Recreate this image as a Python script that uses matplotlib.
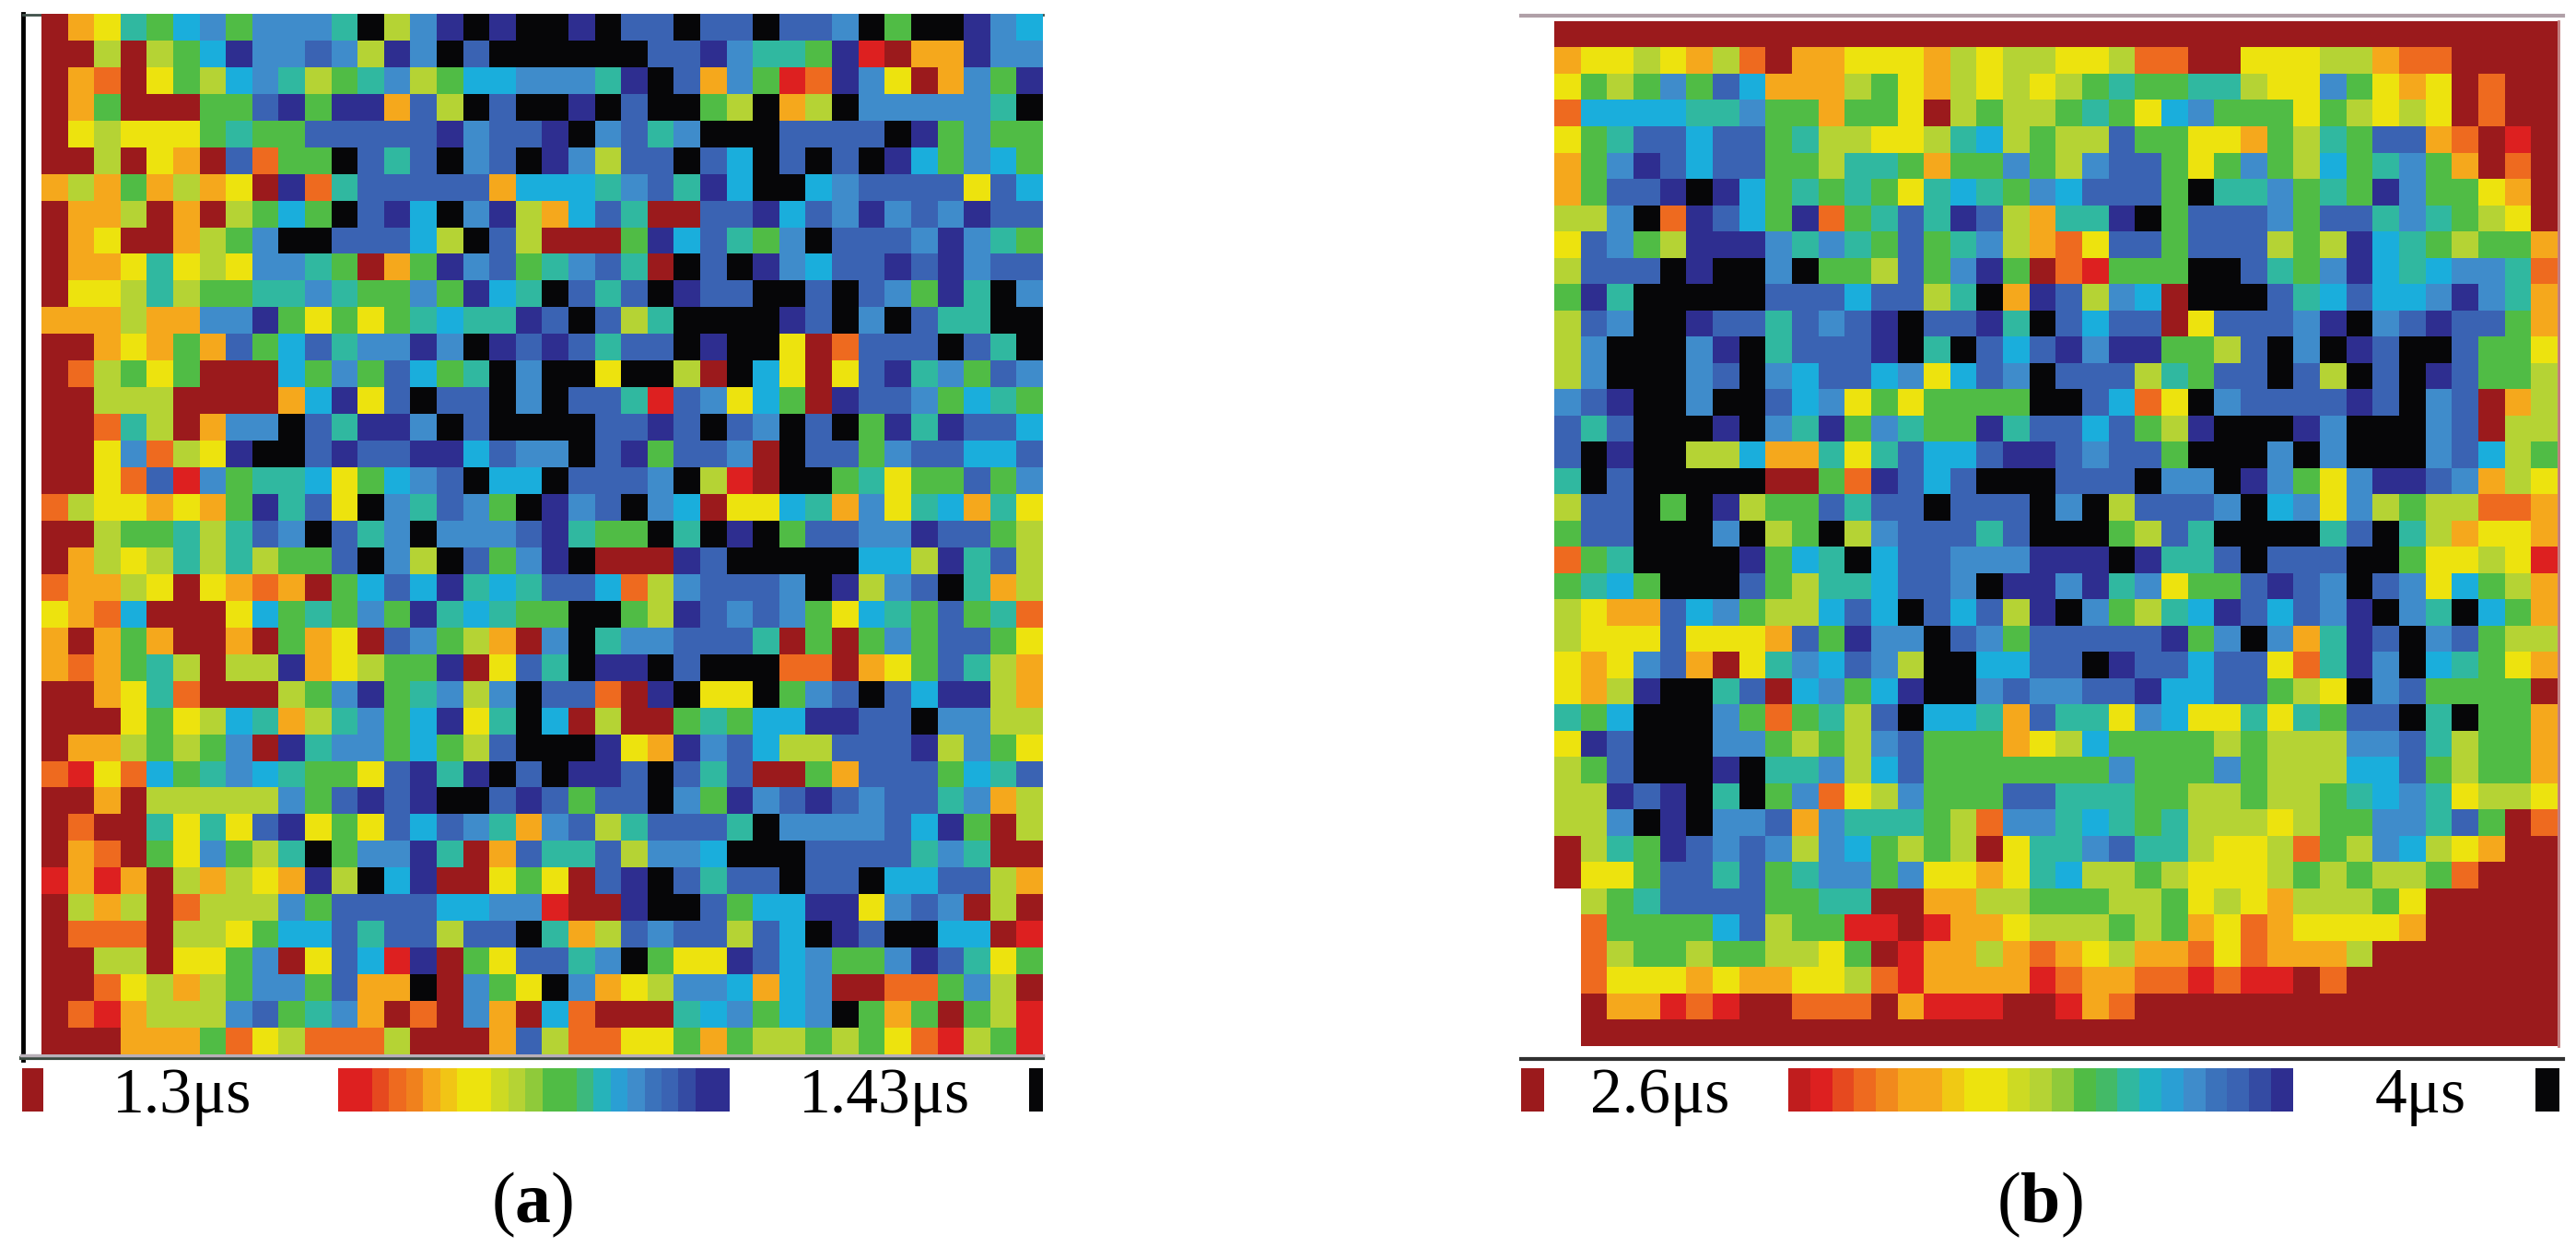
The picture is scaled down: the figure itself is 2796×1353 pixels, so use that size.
import numpy as np
import matplotlib
matplotlib.use('Agg')
import matplotlib.pyplot as plt
from matplotlib.colors import LinearSegmentedColormap

plt.rcParams['font.family'] = ['Liberation Serif', 'DejaVu Serif']
plt.rcParams['mathtext.fontset'] = 'custom'
plt.rcParams['mathtext.rm'] = 'Liberation Serif'
plt.rcParams['mathtext.bf'] = 'Liberation Serif:bold'

# level letters, low to high lifetime (dark red ... black), '.' = no data
level_codes = 'Rroaylgtcbmnk'
level_colors = ['#9B1A1C', '#DD2020', '#EE6A1F', '#F5A81C', '#EDE30E', '#B5D334', '#50BC45',
                '#30B8A0', '#1AAEDC', '#3F8CCB', '#3A63B3', '#2E2E90', '#060608']

# panel (a) lifetime map, read cell by cell, left half then right half of each row
map_a_left = [
    'Raytgcbgbbbtklbnknk', 'RRlRlgcnbbmblnbkmkk', 'RaoRyglcbtlgtblgccb', 'RagRRRggmngnnamlkmk',
    'Rylyyygtggmmmmmnbmm', 'RRlRyaRmoggkmtmkbmk', 'alagalayRnotmmmmmac', 'RaalRaRlgcgkmnckbnl',
    'RayRRalgbkkmmmclkml', 'RaaytylybbtgRagnbmg', 'Ryyltlggttbtggbgnct', 'aaalaabbngygygtcttn',
    'RRayagamgcmtbbnbknm', 'RolgygRRRcgbgmcgtkb', 'RRlllRRRRacnymkmmkb', 'RRotlRabbkmtnnbkmkk',
    'RRybolynkkmnmmnncmb', 'RRyomrbgttcygcbmkcc', 'olyyayagntmykbtmbgk', 'RRlggtltmbkmtbkbbbm',
    'Ralyltltlggmkblkmgb', 'oaalyRyaoaRgcmcntct', 'yaocRRRycgtgbgntctg', 'aRagaRRaRgayRmbglaR',
    'aoagtlRllnaylggnRym', 'RRaytoRRRlgbngtblbk', 'RRRygylctaltbgcnytk', 'RaalglgbRntbbgcglmk',
    'oryocgtbctggymntnkm', 'RRaRlllllbgmnmnkkmn', 'RoRRtytymnygymcmbta', 'RaoRgybgltkgbbntRam',
    'raraRlalyanlkcnRRyg', 'RlalRolllbgmmmmccbb', 'RoooRllygccmtmmlmmk', 'RRllRyygbRymcrnRgym',
    'RRoylalgbbgmaakRbgy', 'RoralllbmgtbaRoRbaR', 'RRRaaagoylooolRRRam',
]
map_a_right = [
    'knkmmkmmkmmbkgkknbc', 'kkkkmmnbttgnrRaanbb', 'bbtnkmabgronbyRabgn', 'knkmkkglkalkbbbbbtk',
    'nkbmtbkkkmmmmkngbgg', 'nblmmkmckmkmkncgbcg', 'cctbmtnckkcbmmmmymc', 'acmtRRmmncmbnbmbnmm',
    'RRRgncmtgbkmmmbnbtg', 'tbmtRkmknbcmmnmnbmm', 'kmtmknmmkkmkmbgntkb', 'mkmltkkkknmkbkmttkk',
    'nmtmmknkkyRommmkmtk', 'kkykklRkcyRymntbgmb', 'kmmtrmbycgRnmmbgctg', 'kkmmnmkmbkmkgntnmmc',
    'bkmngmmbRkmmgbmmccm', 'kmmmbklrRkkgtyggmgb', 'nbmkbcRyyctabytcaty', 'ntggktknkgmmbbnmmgl',
    'nkRRRnmkkkkkcclntml', 'mmcolbmmmbknlbmktal', 'gkkglnmbmbgyctgmgto', 'bktbbmmmtRgRgbgmmgy',
    'tknnkmkkkooRaygmtla', 'mmoRnkyykgbmkmcnnla', 'cRlRRgtgccnnmmkbbll', 'kknyanbmcllmmmnlbgy',
    'knnmkmtmRRgammmgctm', 'mgmmkbgnbmnmbmmtbal', 'bmltmmmtkbbbbmcngRl', 'ttmlbbckkkmmmmtbtRR',
    'yRmnkmtmmkmmkccmmla', 'rRRnkkmgccnnybmbRlR', 'talmbmmlmcknmkkccRr', 'mtbkgyynmcbggbnmtyg',
    'kbaylbbcacbRRoogblR', 'coRRRtcbgcbkgagRglr', 'looyygagllglgyorlgr',
]

# panel (b) lifetime map
map_b_left = [
    'RRRRRRRRRRRRRRRRRRR', 'ayylyaloRaayyyalyll', 'yglgbgmcaaalgyalyly', 'occccttbggaggyRlgll',
    'ygtmmcmmgtllyyltclg', 'agbnmcmmgglttgaggbg', 'agmmnkncgtgtgytctgb', 'llbkonmcgnogtmtnmla',
    'ymbglnnnbtbtgmgtbla', 'lmmmknkkbkgglmgbngR', 'gntkkkkkmmmcmmltkan', 'lmbkknmmtmbmnkmmntk',
    'lbkkkbnktmmmnktkmcm', 'lbkkkbmkbcmmcbycmbk', 'bmnkkbkkmcbygyggggk', 'mtmkkknkbtngbtggntm',
    'mknkkllcaatytmccmnn', 'tkmkkkkkRRgonmcmkkk', 'lmmkgknlggmtmmkmmmk', 'gmmkkkbklgklbmmmtmk',
    'ogtkkkkngctkcmmbbbn', 'gtcgkkkmglttcmmbknn', 'lyaamcbgllcmckmcmln', 'lyyymyyyamgnbbkmbgm',
    'yaybmaRytbcmblkkccm', 'yalnkktmRcbgcnkkbmb', 'tgckkkbgogtlmkcctam', 'ynmkkkbbglglbmgggay',
    'lgmkkknkttblcmggggg', 'llnmnktkgboylbgggmm', 'llbknkbbmabtttglobb', 'RltgnmbmblbcglglRyt',
    'Ryygmmtmgtbbgbyyayt', '.lgtmmmmggttRRaallg', '.oggggcmlggrrRraayl', '.olgglggllygRraalao',
    '.oyyyayaayyloraaaar', '.RaarorRRoooRarrrRR', '.RRRRRRRRRRRRRRRRRR',
]
map_b_right = [
    'RRRRRRRRRRRRRRRRRRR', 'yylooRRyyyllaooRRRR', 'lgtggttlyybgyayRoRR', 'gtgycbgggyglylyRoRR',
    'llmggyyagltgmmaoRrR', 'lbmmgygbglcgtbgaRoR', 'cmmmgkttbgtgnbggyaR', 'ttnkgmmmbgmmtbtglyR',
    'oymmgmmmlglnctglgga', 'orgggkkmtgbnctcbbto', 'mlbcRkkkmtcmccbnbta', 'mcmmRymmmbnkbmnmmga',
    'nbnngglmkbknmkkmggy', 'mmmltgmmkmlkmknmggl', 'kmcoykbmmmmnmkbmRal', 'mcmglnkkknbkkkbmRll',
    'mbmmgkkkbkbkkkbmclg', 'mmmkbbknbgybnnmbaly', 'bklmmmbkcbyblgllooa', 'kkglmtkkkktmktlayya',
    'nnknttmkmmmkkgyylyr', 'bntbyggmnmbkmbycgla', 'kbgltcnmcmbnkbtkcga', 'mmmmngbkbatnmkbmgll',
    'mknmmcmmyotnbkctgya', 'bmmnccmmglykbmggggR', 'ttybcyytytgmmktkgga', 'lcgggglglllbbmtlgga',
    'ggbgggbglllccmglgga', 'tttggllgllgtcbtylly', 'tctgtlllylggbbtmgRo', 'tbmttlyyloglbclyaRR',
    'cllglyyylglgllgoRRR', 'ggllgylyalllgyRRRRR', 'llglgayoayyyyaRRRRR', 'aylaaoyoaaalRRRRRRR',
    'oaaoororrRoRRRRRRRR', 'raoRRRRRRRRRRRRRRRR', 'RRRRRRRRRRRRRRRRRRR',
]

# colour scale strips, in the same level units
scale_a = [1, 1, 1.6, 2, 2.4, 3, 3.5, 4, 4, 4.6, 5, 5.4, 6, 6, 6.6, 7.4, 8.4, 9, 9.6, 10, 10.4, 11, 11]
scale_b = [0.6, 1, 1.6, 2, 2.5, 3, 3, 3.6, 4, 4, 4.6, 5, 5.4, 6, 6.4, 7, 7.6, 8.4, 9, 9.6, 10, 10.4, 11]

labels_a = ['1.3μs', '1.43μs']
labels_b = ['2.6μs', '4μs']


def to_levels(left, right):
    rows = []
    for a, b in zip(left, right):
        rows.append([level_codes.index(c) if c != '.' else np.nan for c in a + b])
    return np.ma.masked_invalid(np.array(rows, dtype=float))


W, H = 2796, 1353
cmap = LinearSegmentedColormap.from_list('lifetime', level_colors, N=len(level_colors) * 16 - 15)
cmap.set_bad('white')

fig = plt.figure(figsize=(W / 100, H / 100), dpi=100)


def px_axes(x0, y0, x1, y1):
    ax = fig.add_axes([x0 / W, 1 - y1 / H, (x1 - x0) / W, (y1 - y0) / H])
    ax.axis('off')
    return ax


def draw_levels(box, values):
    ax = px_axes(*box)
    ax.imshow(values, cmap=cmap, vmin=0, vmax=12, aspect='auto', interpolation='nearest')


# frame lines and text go on a full-figure axes in pixel coordinates
bg = px_axes(0, 0, W, H)
bg.set_xlim(0, W)
bg.set_ylim(H, 0)

# panel (a)
draw_levels((45, 15, 1132, 1144), to_levels(map_a_left, map_a_right))
bg.plot([25, 25], [15, 1150], color='black', lw=3.5)
bg.plot([23, 1132], [1148, 1148], color='#3a4a40', lw=3)
bg.plot([23, 1132], [1145, 1145], color='#b8b0b8', lw=2.5)
bg.plot([25, 1132], [16, 16], color='#40504a', lw=2)

draw_levels((24, 1159, 47, 1206), [[0]])
draw_levels((367, 1159, 792, 1206), [scale_a])
draw_levels((1117, 1159, 1132, 1206), [[12]])
bg.text(198, 1207, labels_a[0], fontsize=50, ha='center', va='baseline', color='black')
bg.text(960, 1207, labels_a[1], fontsize=50, ha='center', va='baseline', color='black')
bg.text(578, 1326, r'($\mathbf{a}$)', fontsize=56, ha='center', va='baseline', color='black')

# panel (b)
draw_levels((1687, 23, 2776, 1135), to_levels(map_b_left, map_b_right))
bg.plot([1651, 2782], [17, 17], color='#b0a0a8', lw=3)
bg.plot([1651, 2782], [1149, 1149], color='#303030', lw=3)
bg.plot([2777, 2777], [23, 1135], color='#c07878', lw=2)

draw_levels((1651, 1159, 1676, 1206), [[0]])
draw_levels((1941, 1159, 2489, 1206), [scale_b])
draw_levels((2752, 1159, 2778, 1206), [[12]])
bg.text(1802, 1207, labels_b[0], fontsize=50, ha='center', va='baseline', color='black')
bg.text(2627, 1207, labels_b[1], fontsize=50, ha='center', va='baseline', color='black')
bg.text(2214, 1326, r'($\mathbf{b}$)', fontsize=56, ha='center', va='baseline', color='black')

plt.savefig('out.png', dpi=100)
plt.close()
